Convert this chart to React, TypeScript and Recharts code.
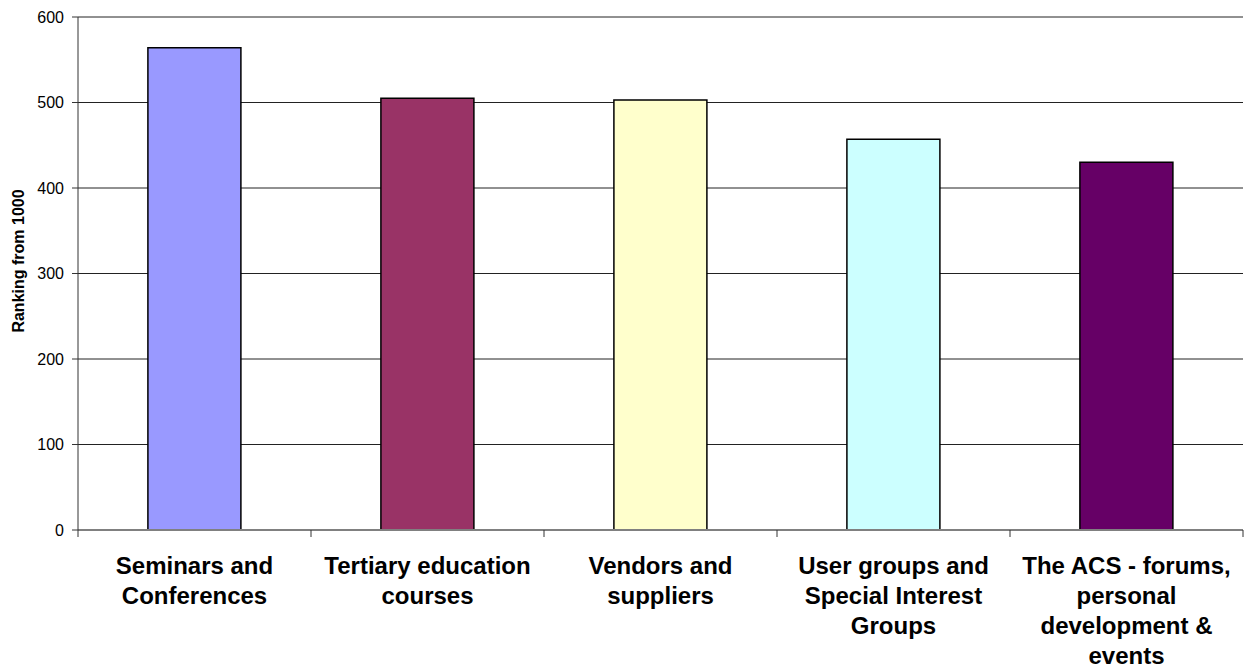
import { BarChart, Bar, Cell, XAxis, YAxis, CartesianGrid } from 'recharts';

const categories = [
  'Seminars and Conferences',
  'Tertiary education courses',
  'Vendors and suppliers',
  'User groups and Special Interest Groups',
  'The ACS - forums, personal development & events',
];
const labelLines = [
  ['Seminars and', 'Conferences'],
  ['Tertiary education', 'courses'],
  ['Vendors and', 'suppliers'],
  ['User groups and', 'Special Interest', 'Groups'],
  ['The ACS - forums,', 'personal', 'development &', 'events'],
];
const rankings = [564, 505, 503, 457, 430];
const colors = ['#9999FF', '#993366', '#FFFFCC', '#CCFFFF', '#660066'];
const yTicks = [0, 100, 200, 300, 400, 500, 600];

const font = "Arial, 'Liberation Sans', sans-serif";

const data = categories.map((name, i) => ({ name, value: rankings[i], idx: i }));

// category label plus tick marks on the category boundaries, Excel style
const CategoryTick = ({ x, y, index, width, visibleTicksCount }: any) => {
  const lines = labelLines[index] || [];
  const band = width / (visibleTicksCount || categories.length);
  const axisY = y - 8;
  const left = x - band / 2;
  const right = x + band / 2;
  return (
    <g>
      <line x1={left} x2={left} y1={axisY} y2={axisY + 7} stroke="#333" />
      {index === categories.length - 1 && (
        <line x1={right} x2={right} y1={axisY} y2={axisY + 7} stroke="#333" />
      )}
      <text x={x} y={y} textAnchor="middle" fontFamily={font} fontWeight="bold" fontSize={24} fill="#000">
        {lines.map((line, i) => (
          <tspan key={i} x={x} dy={i === 0 ? 36 : 30}>
            {line}
          </tspan>
        ))}
      </text>
    </g>
  );
};

const YLabel = () => (
  <text
    x={18}
    y={261}
    transform="rotate(-90, 18, 261)"
    textAnchor="middle"
    dominantBaseline="central"
    fontFamily={font}
    fontWeight="bold"
    fontSize={16}
    fill="#000"
  >
    Ranking from 1000
  </text>
);

export default function App() {
  return (
    <div style={{ position: 'absolute', left: 0, top: 0, background: '#fff' }}>
      <BarChart
        width={1246}
        height={670}
        data={data}
        margin={{ top: 17, right: 3, bottom: 0, left: 0 }}
        barCategoryGap="30%"
      >
        <CartesianGrid vertical={false} stroke="#222" strokeWidth={1} />
        <XAxis
          dataKey="name"
          height={140}
          tickLine={false}
          tickSize={6}
          tickMargin={2}
          axisLine={{ stroke: '#808080', strokeWidth: 2 }}
          tick={<CategoryTick />}
          interval={0}
        />
        <YAxis
          width={78}
          domain={[0, 600]}
          ticks={yTicks}
          interval={0}
          tickSize={6}
          tickMargin={8}
          axisLine={{ stroke: '#333' }}
          tickLine={{ stroke: '#333' }}
          tick={{ fontFamily: font, fontSize: 16, fill: '#000' }}
          label={<YLabel />}
        />
        <Bar dataKey="value" stroke="#000" strokeWidth={1.5} isAnimationActive={false}>
          {data.map((d, i) => (
            <Cell key={d.name} fill={colors[i]} />
          ))}
        </Bar>
      </BarChart>
    </div>
  );
}
